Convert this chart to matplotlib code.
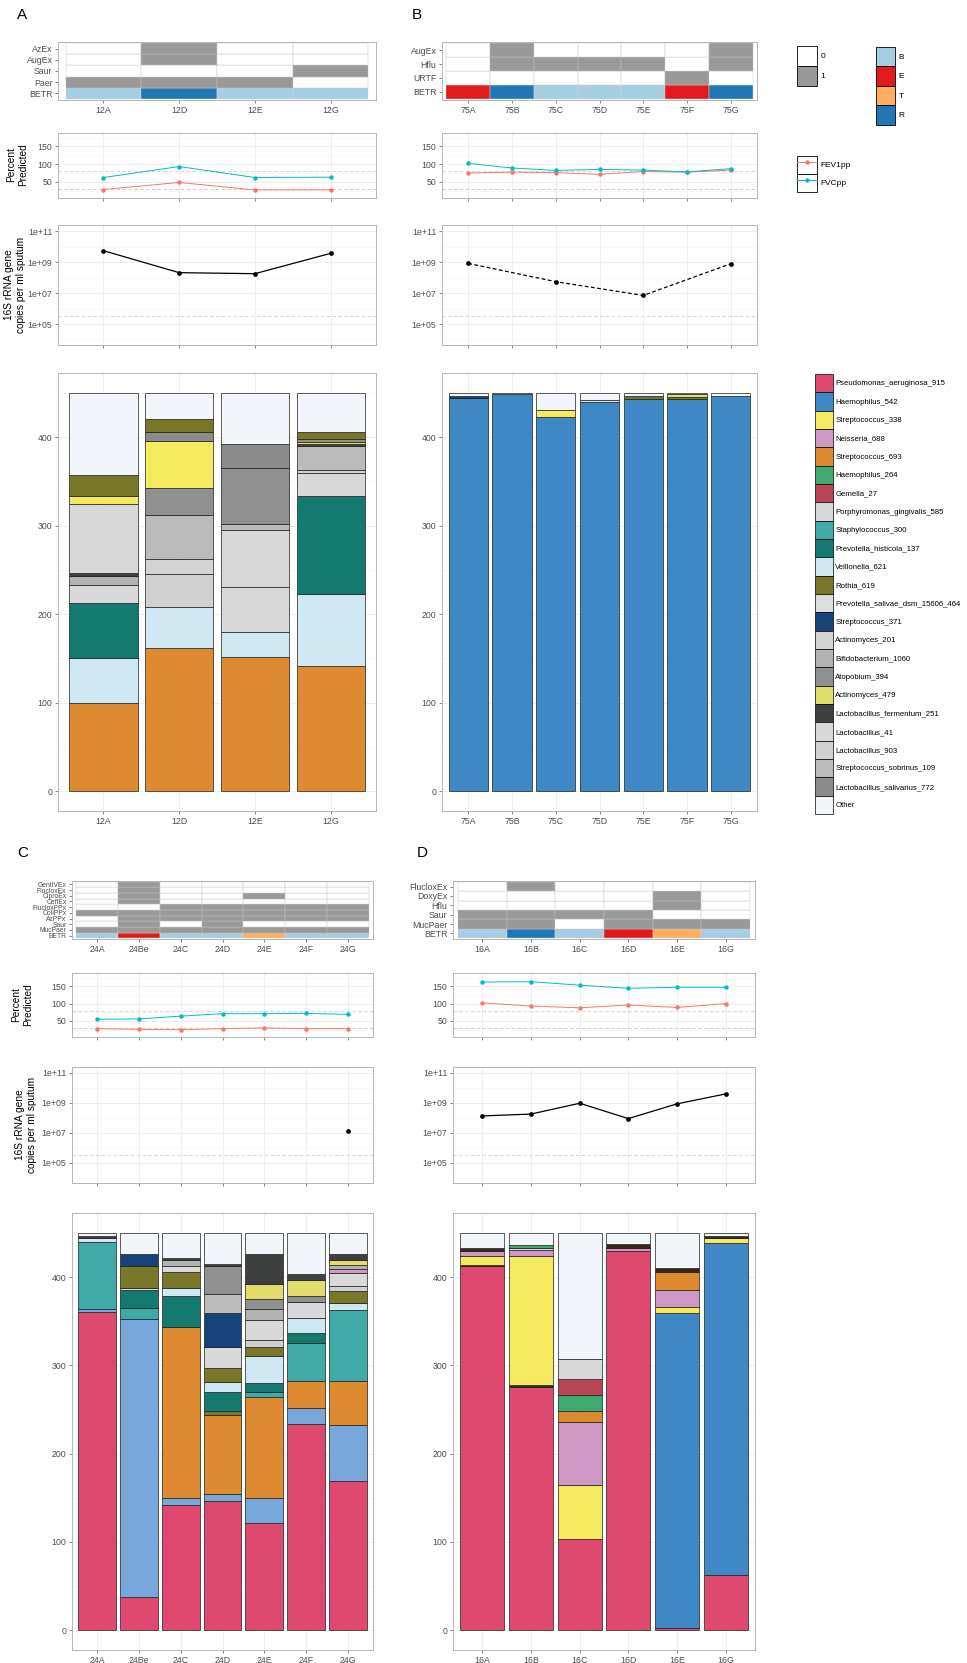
import matplotlib
matplotlib.use("Agg")
import matplotlib.pyplot as plt
from matplotlib.patches import Patch, Rectangle
from matplotlib.lines import Line2D
from matplotlib.legend_handler import HandlerLine2D
from matplotlib.ticker import FixedLocator, NullFormatter
import numpy as np

plt.rcParams['font.family'] = ['Liberation Sans', 'DejaVu Sans']

# ---------------- data ----------------
species = ["Pseudomonas_aeruginosa_915", "Haemophilus_542", "Streptococcus_338",
           "Neisseria_688", "Streptococcus_693", "Haemophilus_264", "Gemella_27",
           "Porphyromonas_gingivalis_585", "Staphylococcus_300", "Prevotella_histicola_137",
           "Veillonella_621", "Rothia_619", "Prevotella_salivae_dsm_15606_464",
           "Streptococcus_371", "Actinomyces_201", "Bifidobacterium_1060", "Atopobium_394",
           "Actinomyces_479", "Lactobacillus_fermentum_251", "Lactobacillus_41",
           "Lactobacillus_903", "Streptococcus_sobrinus_109", "Lactobacillus_salivarius_772",
           "Other"]
species_colors = ["#E0496F", "#3D88C5", "#F4EA5F", "#CF97C3", "#DE8A31", "#3EAA6F",
                  "#B84456", "#D8D8D8", "#3FAAA8", "#14796F", "#D0E7F4", "#787828",
                  "#DCDCDC", "#15437A", "#D4D4D4", "#B2B2B2", "#909090", "#E2DD6B",
                  "#3F4141", "#D9D9D9", "#D0D0D0", "#BBBBBB", "#8B8B8B", "#F2F5F9"]
# taxa drawn in C/D that are not listed in the legend
extra_taxa = ["unlisted_blue", "unlisted_brown"]
extra_colors = ["#78A8DB", "#3B2718"]

betr_levels = ["B", "E", "T", "R"]
betr_colors = ["#A6CEE3", "#E31A1C", "#FDAE61", "#1F78B4"]

# panel A
a_samples = ["12A", "12D", "12E", "12G"]
a_rows = ["BETR", "Paer", "Saur", "AugEx", "AzEx"]
a_betr = ["B", "R", "B", "B"]
a_flags = [[1, 1, 1, 0], [0, 0, 0, 1], [0, 1, 0, 0], [0, 1, 0, 0]]
a_fev = [28, 48, 27, 27]
a_fvc = [62, 93, 62, 63]
a_copies = [5.5e9, 2.1e8, 1.8e8, 3.7e9]
a_stacks = {
    "12A": [("Streptococcus_693", 100), ("Veillonella_621", 50), ("Prevotella_histicola_137", 63),
            ("Lactobacillus_41", 20), ("Bifidobacterium_1060", 10), ("Lactobacillus_fermentum_251", 3),
            ("Porphyromonas_gingivalis_585", 78), ("Streptococcus_338", 10), ("Rothia_619", 23),
            ("Other", 93)],
    "12D": [("Streptococcus_693", 162), ("Veillonella_621", 46), ("Lactobacillus_903", 37),
            ("Actinomyces_201", 17), ("Streptococcus_sobrinus_109", 50), ("Atopobium_394", 30),
            ("Streptococcus_338", 54), ("Lactobacillus_salivarius_772", 10), ("Rothia_619", 14),
            ("Other", 30)],
    "12E": [("Streptococcus_693", 152), ("Veillonella_621", 28), ("Lactobacillus_41", 51),
            ("Porphyromonas_gingivalis_585", 64), ("Streptococcus_sobrinus_109", 7),
            ("Atopobium_394", 63), ("Lactobacillus_salivarius_772", 27), ("Other", 58)],
    "12G": [("Streptococcus_693", 141), ("Veillonella_621", 82), ("Prevotella_histicola_137", 110),
            ("Lactobacillus_41", 26), ("Lactobacillus_903", 4), ("Streptococcus_sobrinus_109", 27),
            ("Lactobacillus_fermentum_251", 2), ("Actinomyces_479", 3), ("Atopobium_394", 3),
            ("Rothia_619", 8), ("Other", 44)],
}

# panel B
b_samples = ["75A", "75B", "75C", "75D", "75E", "75F", "75G"]
b_rows = ["BETR", "URTF", "Hflu", "AugEx"]
b_betr = ["E", "R", "B", "B", "B", "E", "R"]
b_flags = [[0, 0, 0, 0, 0, 1, 0], [0, 1, 1, 1, 1, 0, 1], [0, 1, 0, 0, 0, 0, 1]]
b_fev = [75, 77, 76, 71, 79, 77, 83]
b_fvc = [102, 89, 82, 85, 83, 78, 87]
b_copies = [8.3e8, np.nan, 5.5e7, np.nan, 7.1e6, np.nan, 7.9e8]
b_stacks = {
    "75A": [("Haemophilus_542", 444), ("Streptococcus_371", 3), ("Other", 3)],
    "75B": [("Haemophilus_542", 449), ("Other", 1)],
    "75C": [("Haemophilus_542", 423), ("Streptococcus_338", 8), ("Other", 19)],
    "75D": [("Haemophilus_542", 440), ("Veillonella_621", 2), ("Other", 8)],
    "75E": [("Haemophilus_542", 443), ("Rothia_619", 3), ("Other", 4)],
    "75F": [("Haemophilus_542", 443), ("Rothia_619", 2), ("Actinomyces_479", 4), ("Other", 1)],
    "75G": [("Haemophilus_542", 447), ("Other", 3)],
}

# panel C
c_samples = ["24A", "24Be", "24C", "24D", "24E", "24F", "24G"]
c_rows = ["BETR", "MucPaer", "Saur", "AzPPx", "ColiPPx", "FlucloxPPx", "CeftEx",
          "CiproEx", "FlucloxEx", "GentIVEx"]
c_betr = ["B", "E", "B", "B", "T", "B", "B"]
c_flags = [[1, 1, 1, 1, 1, 1, 1],
           [0, 1, 0, 1, 0, 0, 0],
           [0, 1, 1, 1, 1, 1, 1],
           [1, 1, 1, 1, 1, 1, 1],
           [0, 0, 1, 1, 1, 1, 1],
           [0, 1, 0, 0, 0, 0, 0],
           [0, 1, 0, 0, 1, 0, 0],
           [0, 1, 0, 0, 0, 0, 0],
           [0, 1, 0, 0, 0, 0, 0]]
c_fev = [28, 26, 25, 28, 30, 28, 28]
c_fvc = [55, 56, 64, 71, 71, 72, 69]
c_copies = [np.nan, np.nan, np.nan, np.nan, np.nan, np.nan, 1.3e7]
c_stacks = {
    "24A": [("Pseudomonas_aeruginosa_915", 360), ("unlisted_blue", 4), ("Staphylococcus_300", 76),
            ("Veillonella_621", 4), ("Lactobacillus_fermentum_251", 2), ("Other", 4)],
    "24Be": [("Pseudomonas_aeruginosa_915", 38), ("unlisted_blue", 314), ("Staphylococcus_300", 13),
             ("Prevotella_histicola_137", 20), ("Lactobacillus_41", 2), ("Rothia_619", 25),
             ("Streptococcus_371", 14), ("Other", 24)],
    "24C": [("Pseudomonas_aeruginosa_915", 142), ("unlisted_blue", 8), ("Streptococcus_693", 193),
            ("Prevotella_histicola_137", 35), ("Veillonella_621", 9), ("Rothia_619", 19),
            ("Lactobacillus_41", 7), ("Bifidobacterium_1060", 6), ("Lactobacillus_fermentum_251", 3),
            ("Other", 28)],
    "24D": [("Pseudomonas_aeruginosa_915", 146), ("unlisted_blue", 8), ("Streptococcus_693", 90),
            ("Rothia_619", 4), ("Prevotella_histicola_137", 22), ("Veillonella_621", 11),
            ("Rothia_619", 16), ("Lactobacillus_41", 24), ("Streptococcus_371", 38),
            ("Streptococcus_sobrinus_109", 22), ("Atopobium_394", 32),
            ("Lactobacillus_fermentum_251", 2), ("Other", 35)],
    "24E": [("Pseudomonas_aeruginosa_915", 121), ("unlisted_blue", 29), ("Streptococcus_693", 114),
            ("Staphylococcus_300", 6), ("Prevotella_histicola_137", 10), ("Veillonella_621", 30),
            ("Rothia_619", 11), ("Lactobacillus_903", 8), ("Lactobacillus_41", 22),
            ("Bifidobacterium_1060", 13), ("Atopobium_394", 11), ("Actinomyces_479", 17),
            ("Lactobacillus_fermentum_251", 34), ("Other", 24)],
    "24F": [("Pseudomonas_aeruginosa_915", 234), ("unlisted_blue", 18), ("Streptococcus_693", 30),
            ("Staphylococcus_300", 43), ("Prevotella_histicola_137", 12), ("Veillonella_621", 16),
            ("Lactobacillus_41", 19), ("Atopobium_394", 6), ("Actinomyces_479", 19),
            ("Lactobacillus_fermentum_251", 6), ("Other", 47)],
    "24G": [("Pseudomonas_aeruginosa_915", 169), ("unlisted_blue", 63), ("Streptococcus_693", 50),
            ("Staphylococcus_300", 81), ("Veillonella_621", 8), ("Rothia_619", 13),
            ("Lactobacillus_903", 6), ("Lactobacillus_41", 15), ("Neisseria_688", 4),
            ("Bifidobacterium_1060", 5), ("Actinomyces_479", 5), ("Lactobacillus_fermentum_251", 7),
            ("Other", 24)],
}

# panel D
d_samples = ["16A", "16B", "16C", "16D", "16E", "16G"]
d_rows = ["BETR", "MucPaer", "Saur", "Hflu", "DoxyEx", "FlucloxEx"]
d_betr = ["B", "R", "B", "E", "T", "B"]
d_flags = [[1, 1, 0, 1, 1, 1],
           [1, 1, 1, 1, 0, 0],
           [0, 0, 0, 0, 1, 0],
           [0, 0, 0, 0, 1, 0],
           [0, 1, 0, 0, 0, 0]]
d_fev = [102, 93, 88, 96, 89, 100]
d_fvc = [162, 163, 153, 144, 147, 147]
d_copies = [1.35e8, 1.8e8, 9.5e8, 9.0e7, 8.7e8, 4.0e9]
d_stacks = {
    "16A": [("Pseudomonas_aeruginosa_915", 412), ("unlisted_brown", 2), ("Streptococcus_338", 10),
            ("Neisseria_688", 5), ("unlisted_brown", 4), ("Other", 17)],
    "16B": [("Pseudomonas_aeruginosa_915", 275), ("unlisted_brown", 3), ("Streptococcus_338", 146),
            ("Neisseria_688", 7), ("Lactobacillus_41", 2), ("Haemophilus_264", 3), ("Other", 14)],
    "16C": [("Pseudomonas_aeruginosa_915", 103), ("Streptococcus_338", 61), ("Neisseria_688", 72),
            ("Streptococcus_693", 12), ("Haemophilus_264", 18), ("Gemella_27", 18),
            ("Porphyromonas_gingivalis_585", 23), ("Other", 143)],
    "16D": [("Pseudomonas_aeruginosa_915", 430), ("Neisseria_688", 3), ("unlisted_brown", 4),
            ("Other", 13)],
    "16E": [("Pseudomonas_aeruginosa_915", 2), ("Haemophilus_542", 357), ("Streptococcus_338", 7),
            ("Neisseria_688", 19), ("Streptococcus_693", 21), ("unlisted_brown", 4), ("Other", 40)],
    "16G": [("Pseudomonas_aeruginosa_915", 62), ("Haemophilus_542", 377), ("Streptococcus_338", 5),
            ("unlisted_brown", 2), ("Other", 4)],
}

# ---------------- drawing ----------------
W, H = 967, 1663
colour = dict(zip(species + extra_taxa, species_colors + extra_colors))
betr_col = dict(zip(betr_levels, betr_colors))
flag_col = {0: "white", 1: "#999999"}
TXT = "#4d4d4d"


def px_axes(fig, x0, y0, x1, y1):
    return fig.add_axes([x0 / W, 1 - y1 / H, (x1 - x0) / W, (y1 - y0) / H])


def base_style(ax, n, grid=True):
    ax.set_xlim(0.4, n + 0.6)
    for sp in ax.spines.values():
        sp.set_color("#b5b5b5")
        sp.set_linewidth(0.7)
    ax.tick_params(length=2.5, width=0.5, color="#555555", labelsize=6.3,
                   labelcolor=TXT, pad=1.5)
    ax.set_axisbelow(True)
    if grid:
        ax.grid(True, which="major", color="#ebebeb", lw=0.6)
        ax.grid(True, which="minor", axis="y", color="#f3f3f3", lw=0.4)
        ax.tick_params(which="minor", length=0)


def draw_heat(ax, samples, rows, betr, flags, fs):
    n = len(samples)
    x = np.arange(1, n + 1)
    ax.bar(x, 1, bottom=0.5, width=1, color=[betr_col[b] for b in betr],
           edgecolor="#d6d6d6", linewidth=0.3)
    for r, fl in enumerate(flags, start=2):
        ax.bar(x, 1, bottom=r - 0.5, width=1, color=[flag_col[f] for f in fl],
               edgecolor="#c4c4c4", linewidth=0.3)
    base_style(ax, n, grid=False)
    ax.set_ylim(0.4, len(rows) + 0.6)
    ax.set_yticks(range(1, len(rows) + 1))
    ax.set_yticklabels(rows, fontsize=fs)
    ax.set_xticks(x)
    ax.set_xticklabels(samples)


def draw_pct(ax, n, fev, fvc):
    x = np.arange(1, n + 1)
    base_style(ax, n)
    ax.axhline(30, ls=(0, (4, 3)), color="#e2b8b8", lw=0.6)
    ax.axhline(80, ls=(0, (4, 3)), color="#cfcfcf", lw=0.6)
    ax.plot(x, fev, "-o", color="#F8766D", ms=2.2, lw=0.7)
    ax.plot(x, fvc, "-o", color="#00BFC4", ms=2.2, lw=0.7)
    ax.set_ylim(4, 188)
    ax.set_yticks([50, 100, 150])
    ax.yaxis.set_minor_locator(FixedLocator([25, 75, 125, 175]))
    ax.set_xticks(x)
    ax.set_xticklabels([])


def draw_copies(ax, n, copies, ls):
    x = np.arange(1, n + 1)
    y = np.array(copies, dtype=float)
    ok = ~np.isnan(y)
    ax.set_yscale("log")
    base_style(ax, n)
    ax.axhline(10 ** 5.5, ls=(0, (4, 3)), color="#d0d0d0", lw=0.6)
    ax.plot(x[ok], y[ok], color="black", ls=ls, lw=0.9, marker="o", ms=2.4)
    ax.set_ylim(10 ** 3.65, 10 ** 11.4)
    ax.yaxis.set_major_locator(FixedLocator([1e5, 1e7, 1e9, 1e11]))
    ax.set_yticklabels(["1e+05", "1e+07", "1e+09", "1e+11"])
    ax.yaxis.set_minor_locator(FixedLocator([1e4, 1e6, 1e8, 1e10]))
    ax.yaxis.set_minor_formatter(NullFormatter())
    ax.tick_params(which="minor", length=0)
    ax.set_xticks(x)
    ax.set_xticklabels([])


def draw_bars(ax, samples, stacks):
    n = len(samples)
    base_style(ax, n)
    for i, s in enumerate(samples):
        bottom = 0
        for sp, v in stacks[s]:
            ax.bar(i + 1, v, bottom=bottom, width=0.9, color=colour[sp],
                   edgecolor="#1e1e1e", linewidth=0.5)
            bottom += v
    ax.set_ylim(-22.5, 472.5)
    ax.set_yticks([0, 100, 200, 300, 400])
    ax.yaxis.set_minor_locator(FixedLocator([50, 150, 250, 350, 450]))
    ax.set_xticks(np.arange(1, n + 1))
    ax.set_xticklabels(samples)


def panel(fig, x0, x1, ys, samples, rows, betr, flags, fev, fvc, copies, ls, stacks, fs):
    n = len(samples)
    draw_heat(px_axes(fig, x0, ys[0][0], x1, ys[0][1]), samples, rows, betr, flags, fs)
    draw_pct(px_axes(fig, x0, ys[1][0], x1, ys[1][1]), n, fev, fvc)
    draw_copies(px_axes(fig, x0, ys[2][0], x1, ys[2][1]), n, copies, ls)
    draw_bars(px_axes(fig, x0, ys[3][0], x1, ys[3][1]), samples, stacks)


class BoxedLine(HandlerLine2D):
    def create_artists(self, legend, orig_handle, xdescent, ydescent, width, height,
                       fontsize, trans):
        arts = super().create_artists(legend, orig_handle, xdescent, ydescent, width,
                                      height, fontsize, trans)
        box = Rectangle((-xdescent, -ydescent), width, height, facecolor="white",
                        edgecolor="black", linewidth=0.6, transform=trans)
        return [box] + arts


fig = plt.figure(figsize=(W / 100, H / 100), dpi=100)

top_rows = [(42, 100), (133, 198), (225, 345), (373, 811)]
bot_rows = [(881, 939), (973, 1037), (1067, 1183), (1213, 1650)]

panel(fig, 58, 376, top_rows, a_samples, a_rows, a_betr, a_flags, a_fev, a_fvc,
      a_copies, "-", a_stacks, 6.3)
panel(fig, 442, 757, top_rows, b_samples, b_rows, b_betr, b_flags, b_fev, b_fvc,
      b_copies, (0, (3, 2)), b_stacks, 6.3)
panel(fig, 72, 373, bot_rows, c_samples, c_rows, c_betr, c_flags, c_fev, c_fvc,
      c_copies, "-", c_stacks, 4.9)
panel(fig, 453, 755, bot_rows, d_samples, d_rows, d_betr, d_flags, d_fev, d_fvc,
      d_copies, "-", d_stacks, 6.3)

# panel letters
for lab, (px, py) in {"A": (17, 15), "B": (412, 15), "C": (17, 853), "D": (417, 853)}.items():
    fig.text(px / W, 1 - py / H, lab, fontsize=11, va="center", ha="left")

# y axis titles
for px, py in [(17, 165), (22, 1005)]:
    fig.text(px / W, 1 - py / H, "Percent\nPredicted", rotation=90, fontsize=7.3,
             ha="center", va="center", multialignment="center")
for px, py in [(15, 285), (26, 1125)]:
    fig.text(px / W, 1 - py / H, "16S rRNA gene\ncopies per ml sputum", rotation=90,
             fontsize=7.3, ha="center", va="center", multialignment="center")

# legends (legend key height = fontsize * (0.65 * handleheight + 0.245))
leg_kw = dict(loc="upper left", frameon=False, borderpad=0,
              labelspacing=0, borderaxespad=0)
fig.legend([Patch(facecolor=flag_col[k], edgecolor="black", linewidth=0.6) for k in (0, 1)],
           ["0", "1"], bbox_to_anchor=(797 / W, 1 - 46 / H), fontsize=6,
           handletextpad=0.4, handlelength=2.4, handleheight=3.3, **leg_kw)
fig.legend([Patch(facecolor=betr_col[k], edgecolor="black", linewidth=0.6) for k in betr_levels],
           betr_levels, bbox_to_anchor=(876 / W, 1 - 47 / H), fontsize=6,
           handletextpad=0.4, handlelength=2.3, handleheight=3.2, **leg_kw)
fig.legend([Line2D([], [], color="#F8766D", marker="o", ms=2.2, lw=0.7),
            Line2D([], [], color="#00BFC4", marker="o", ms=2.2, lw=0.7)],
           ["FEV1pp", "FVCpp"], bbox_to_anchor=(797 / W, 1 - 156 / H), fontsize=6,
           handletextpad=0.4, handlelength=2.4, handleheight=2.95,
           handler_map={Line2D: BoxedLine()}, **leg_kw)
fig.legend([Patch(facecolor=colour[s], edgecolor="black", linewidth=0.5) for s in species],
           species, bbox_to_anchor=(815 / W, 1 - 374 / H), fontsize=5.6,
           handletextpad=0.3, handlelength=2.3, handleheight=3.25, **leg_kw)

fig.savefig("out.png", dpi=100)
